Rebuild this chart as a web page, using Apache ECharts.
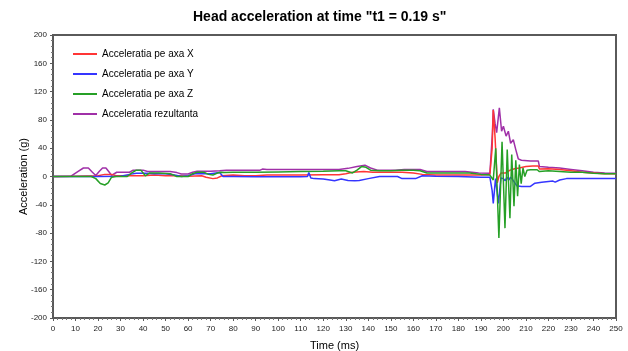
<!DOCTYPE html>
<html>
<head>
<meta charset="utf-8">
<script src="https://cdn.jsdelivr.net/npm/echarts@6/dist/echarts.min.js"></script>
<style>
  html, body { margin: 0; padding: 0; background: #fff; }
  #chart { width: 628px; height: 351px; }
</style>
</head>
<body>
<div id="chart"></div>
<script>
// ---- data (time in ms, acceleration in g) ----
const titleText = 'Head acceleration at time "t1 = 0.19 s"';
const seriesNames = ['Acceleratia pe axa X', 'Acceleratia pe axa Y', 'Acceleratia pe axa Z', 'Acceleratia rezultanta'];
const xRange = [0, 250];
const yRange = [-200, 200];

const accelX = [
  [0,0],[10,0.5],[20,1],[23,3],[26,3],[28,1],[35,1],[40,1],[45,2],[50,1],[56,1],[60,0.5],[66,1],[68,-1],[71,-3],[73,-2],[75,1],[80,2],[85,1],[90,1],[95,2],[100,2],[110,2],[120,2.5],[127,2.5],[130,4],[133,6],[138,7],[142,6],[150,6],[155,6],[160,5],[164,3],[170,2],[180,2],[190,2],[194,3],
  [195,40],[195.5,94],[196.3,55],[197.3,-9],[198,0],[199,5],[201,5],[203,9],[205,11],[207,12],[210,14],[213,15],[215.5,15],[216,10.5],[220,11],[225,10],[230,8],[235,6],[240,5],[245,4],[250,4]
];
const accelY = [
  [0,0],[10,0],[20,0],[30,0.5],[34,3],[37,4.5],[41,4.5],[45,4],[50,4],[54,2],[57,0],[60,1],[63,4],[67,4],[70,4],[74,5.5],[75.5,0],[80,0],[90,-0.5],[100,-0.5],[110,-0.5],[113,0],[113.6,5.5],[114.5,-2],[116,-3],[120,-3.5],[123,-5],[125,-6],[128,-3.5],[131,-5.5],[134,-6],[136,-5.5],[140,-3],[145,0],[153,0],[155,-3],[161,-3],[164,1],[170,0.5],[180,0],[190,-1],[194,-1],
  [195,-20],[195.5,-38],[196.5,-3],[197.8,-38],[198.9,-2],[200,-3],[200.8,-6],[201.6,-1],[202.4,-5],[203.2,-1],[204,-4],[205.9,-13],[208,-14],[212,-14],[214,-9.5],[217,-8],[222,-6.5],[223,-8],[225,-5],[228,-3],[235,-3],[240,-3],[250,-3]
];
const accelZ = [
  [0,0],[17,0],[19,-3],[21,-10],[23,-12],[24.5,-9],[26,-1],[28,0],[33,0],[35,5],[37,9],[39,9],[41,1],[43,5],[47,5],[52,4],[55,0],[60,0],[62,4],[64,6],[67,6],[69,3],[71,2],[73,5],[74.5,6],[76,5.5],[80,6],[90,6],[100,6.5],[110,7],[120,7.5],[127,8],[130,8],[133,5],[135,9],[137,14],[139,13],[141,9],[145,8],[150,8],[155,9],[160,9],[163,8],[166,5],[175,5],[185,5],[190,3],[194,2],
  [195.5,-5],[196.6,40],[198,-87],[199.4,49],[200.7,-73],[201.7,38],[202.9,-59],[203.7,31],[204.7,-42],[205.5,23],[206.3,-28],[207.1,17],[207.9,-10],[208.7,12],[209.5,0],[210.5,9],[212,9.5],[215,9.5],[216,7],[220,8],[225,7],[230,6],[235,6],[240,4.5],[245,4],[250,4]
];
const accelR = [
  [0,0],[8,0.5],[11,7],[13.5,12],[15.7,12],[17.5,6],[19,1.5],[20.5,7],[22,12],[23.5,12],[25,6],[26,1.5],[28.3,6],[34,6],[35.6,9],[40,9],[42,7],[46,7],[52,7],[55,5.5],[57,3.5],[60,3.5],[62,6],[64,7.5],[70,7.5],[74,8],[77,9],[84,9],[84.8,11.5],[85.6,9],[86.4,11.5],[87.2,9],[88,11.5],[88.8,9],[89.6,11.5],[90.4,9],[91.2,11.5],[92,9],[93,10.5],[95,10],[105,10],[115,10],[127,10],[131,11.5],[135,14],[138.5,16],[141,12],[144,9],[152,9],[156,10],[163,10],[166,7],[175,7],[183,7],[189,5],[194,4.5],
  [195.1,60],[195.5,95],[196.3,75],[197,62],[198.2,97],[199.2,64],[200,71],[201.2,57],[202.2,64],[203.2,47],[204.4,52],[205.5,38],[205.9,40],[206.6,25],[208,23],[212,22],[215.5,22],[216,14],[220,13],[225,12],[230,10],[235,8],[240,6],[245,5],[250,4.5]
];
const seriesData = [accelX, accelY, accelZ, accelR];
const seriesColors = ['#ff3535', '#3535ff', '#26a026', '#a030a8'];
const seriesZ = [3, 4, 5, 2];

const FONT = '"Liberation Sans", Arial, sans-serif';
const chart = echarts.init(document.getElementById('chart'), null, { renderer: 'canvas' });

chart.setOption({
  animation: false,
  backgroundColor: '#ffffff',
  textStyle: { fontFamily: FONT },
  title: {
    text: titleText,
    left: 188,
    top: 5,
    textStyle: { fontFamily: FONT, fontSize: 14, fontWeight: 'bold', color: '#000' }
  },
  legend: {
    data: seriesNames,
    orient: 'vertical',
    left: 68,
    top: 43,
    icon: 'rect',
    itemWidth: 24,
    itemHeight: 2,
    itemGap: 8,
    textStyle: { fontFamily: FONT, fontSize: 10, color: '#000', lineHeight: 12 }
  },
  grid: {
    left: 53, right: 12, top: 35, bottom: 33,
    outerBoundsMode: 'none',
    containLabel: false,
    show: true,
    borderColor: '#5a5a5a',
    borderWidth: 2,
    backgroundColor: '#fff'
  },
  xAxis: {
    type: 'value',
    min: xRange[0], max: xRange[1], interval: 10,
    name: 'Time (ms)',
    nameLocation: 'middle',
    nameGap: 22,
    nameMoveOverlap: false,
    nameTextStyle: { fontFamily: FONT, fontSize: 11, color: '#000' },
    axisLine: { show: true, onZero: false, lineStyle: { color: '#5a5a5a', width: 1.5 } },
    axisTick: { show: true, length: 3, lineStyle: { color: '#5a5a5a' } },
    minorTick: { show: true, splitNumber: 5, length: 2, lineStyle: { color: '#777' } },
    axisLabel: { fontFamily: FONT, fontSize: 8, color: '#222', margin: 7 },
    splitLine: { show: false }
  },
  yAxis: {
    type: 'value',
    min: yRange[0], max: yRange[1], interval: 40,
    name: 'Acceleration (g)',
    nameLocation: 'middle',
    nameGap: 24,
    nameMoveOverlap: false,
    nameTextStyle: { fontFamily: FONT, fontSize: 11, color: '#000' },
    axisLine: { show: true, onZero: false, lineStyle: { color: '#5a5a5a', width: 1.5 } },
    axisTick: { show: true, length: 3, lineStyle: { color: '#5a5a5a' } },
    minorTick: { show: true, splitNumber: 5, length: 2, lineStyle: { color: '#777' } },
    axisLabel: { fontFamily: FONT, fontSize: 8, color: '#222', margin: 6 },
    splitLine: { show: false }
  },
  series: seriesNames.map((name, i) => ({
    name: name,
    type: 'line',
    data: seriesData[i],
    showSymbol: false,
    symbol: 'none',
    z: seriesZ[i],
    color: seriesColors[i],
    lineStyle: { color: seriesColors[i], width: 1.5 }
  }))
});
</script>
</body>
</html>
